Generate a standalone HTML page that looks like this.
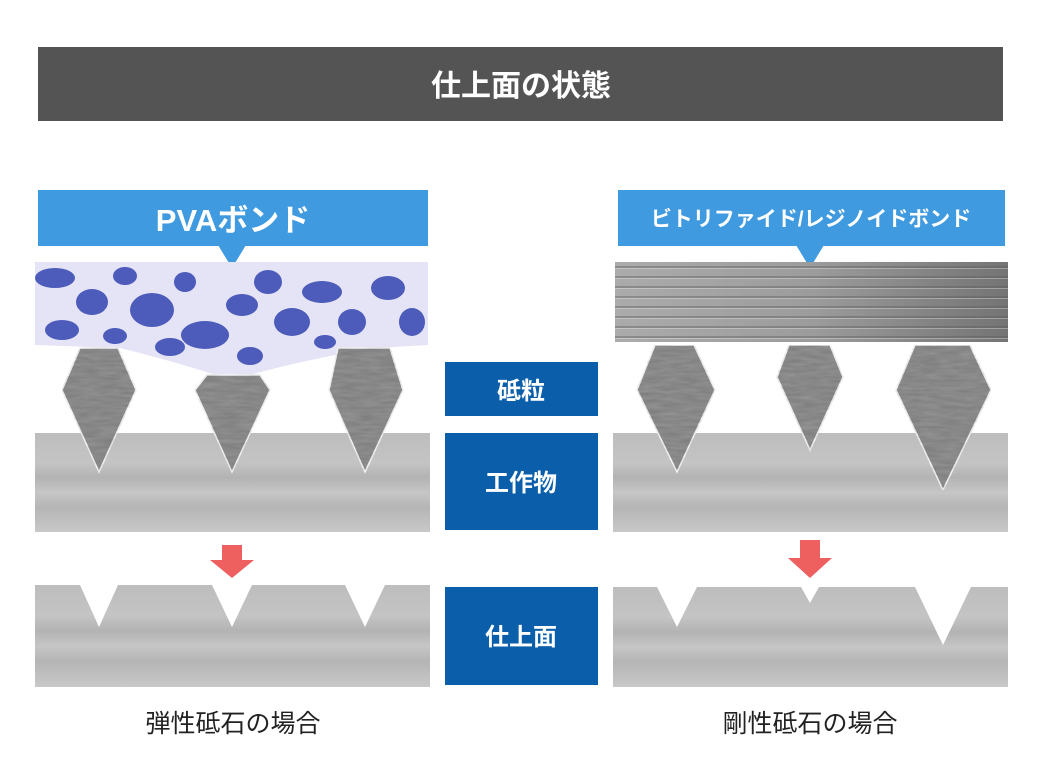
<!DOCTYPE html>
<html><head><meta charset="utf-8"><style>
html,body{margin:0;padding:0;background:#fff;}
svg{display:block}
text{font-family:"Liberation Sans","Noto Sans CJK JP",sans-serif;}
</style></head><body>
<svg width="1043" height="779" viewBox="0 0 1043 779" xmlns="http://www.w3.org/2000/svg">
<defs>
<linearGradient id="work" x1="0" y1="0" x2="0" y2="1">
<stop offset="0" stop-color="#bdbdbd"/><stop offset="0.3" stop-color="#c4c4c4"/><stop offset="0.45" stop-color="#b3b3b3"/><stop offset="0.6" stop-color="#c6c6c6"/><stop offset="0.75" stop-color="#b5b5b5"/><stop offset="1" stop-color="#c8c8c8"/>
</linearGradient>
<linearGradient id="stripeH" x1="0" y1="0" x2="1" y2="0">
<stop offset="0" stop-color="#ababab"/><stop offset="0.5" stop-color="#9c9c9c"/><stop offset="1" stop-color="#747474"/>
</linearGradient>
<pattern id="stripes" width="10" height="10" patternUnits="userSpaceOnUse">
<rect y="6" width="10" height="2" fill="#5a5a5a" opacity="0.4"/><rect y="8" width="10" height="1" fill="#fff" opacity="0.3"/>
</pattern>
<filter id="grain" x="0" y="0" width="100%" height="100%">
<feTurbulence type="fractalNoise" baseFrequency="0.05 0.3" numOctaves="3" seed="3"/>
<feColorMatrix type="matrix" values="0 0 0 0 0.6  0 0 0 0 0.6  0 0 0 0 0.6  0 0 0 -0.9 0.9"/>
<feComposite in2="SourceGraphic" operator="in"/>
<feBlend in2="SourceGraphic" mode="multiply"/>
</filter>
<clipPath id="foamclip"><path d="M35 262 H428 V345 L375 348 Q300 360 232 380 Q170 360 120 348 L35 345 Z"/></clipPath>
</defs>

<rect x="38" y="47" width="965" height="74" fill="#545454"/>
<text x="521" y="96" font-size="30" font-weight="bold" fill="#fff" text-anchor="middle">仕上面の状態</text>

<rect x="38" y="190" width="390" height="56" fill="#3f9ae0"/>
<polygon points="218,245 246,245 232,268" fill="#3f9ae0"/>
<text x="233" y="231" font-size="31" font-weight="bold" fill="#fff" text-anchor="middle">PVAボンド</text>
<rect x="618" y="190" width="387" height="56" fill="#3f9ae0"/>
<polygon points="796,245 824,245 810,268" fill="#3f9ae0"/>
<text x="811" y="226" font-size="21" font-weight="bold" fill="#fff" text-anchor="middle">ビトリファイド/レジノイドボンド</text>

<g clip-path="url(#foamclip)">
<rect x="35" y="262" width="393" height="120" fill="#e4e4f6"/>
<g fill="#3344b0" opacity="0.85">
<ellipse cx="55" cy="278" rx="20" ry="10"/><ellipse cx="92" cy="302" rx="16" ry="13"/><ellipse cx="125" cy="276" rx="12" ry="9"/>
<ellipse cx="152" cy="310" rx="22" ry="17"/><ellipse cx="185" cy="282" rx="11" ry="10"/><ellipse cx="205" cy="335" rx="24" ry="14"/>
<ellipse cx="242" cy="305" rx="16" ry="11"/><ellipse cx="268" cy="282" rx="14" ry="12"/><ellipse cx="292" cy="322" rx="18" ry="14"/>
<ellipse cx="250" cy="356" rx="13" ry="9"/><ellipse cx="322" cy="292" rx="20" ry="11"/><ellipse cx="352" cy="322" rx="14" ry="13"/>
<ellipse cx="388" cy="288" rx="17" ry="12"/><ellipse cx="412" cy="322" rx="13" ry="14"/><ellipse cx="62" cy="330" rx="17" ry="10"/>
<ellipse cx="115" cy="336" rx="12" ry="8"/><ellipse cx="325" cy="342" rx="11" ry="7"/><ellipse cx="170" cy="347" rx="15" ry="9"/>
</g>
</g>

<rect x="615" y="262" width="393" height="80" fill="url(#stripeH)"/>
<rect x="615" y="262" width="393" height="80" fill="url(#stripes)"/>

<rect x="35" y="433" width="395" height="99" fill="url(#work)"/>
<rect x="613" y="433" width="395" height="99" fill="url(#work)"/>

<g fill="#959595" stroke="#fff" stroke-width="1.5" filter="url(#grain)">
<polygon points="80,348 118,348 136,390 99,472 62,390"/>
<polygon points="207,375 260,375 270,390 232,472 195,390"/>
<polygon points="338,348 390,348 403,390 365,472 329,390"/>
<polygon points="655,345 694,345 715,390 677,472 637,390"/>
<polygon points="789,345 830,345 843,377 810,450 777,377"/>
<polygon points="915,345 970,345 991,390 943,490 896,390"/>
</g>

<polygon points="222,545 242,545 242,560 254,560 232,578 210,560 222,560" fill="#ee5f5f"/>
<polygon points="800,540 820,540 820,558 832,558 810,578 788,558 800,558" fill="#ee5f5f"/>

<path d="M35 585 H80 L99 627 L118 585 H212 L232 627 L252 585 H345 L365 627 L385 585 H430 V687 H35 Z" fill="url(#work)"/>
<path d="M613 587 H657 L677 627 L697 587 H801 L810 603 L819 587 H915 L943 645 L971 587 H1008 V687 H613 Z" fill="url(#work)"/>

<rect x="445" y="362" width="153" height="54" fill="#0b5eaa"/>
<text x="521" y="399" font-size="24" font-weight="bold" fill="#fff" text-anchor="middle">砥粒</text>
<rect x="445" y="433" width="153" height="97" fill="#0b5eaa"/>
<text x="521" y="491" font-size="24" font-weight="bold" fill="#fff" text-anchor="middle">工作物</text>
<rect x="445" y="587" width="153" height="98" fill="#0b5eaa"/>
<text x="521" y="645" font-size="24" font-weight="bold" fill="#fff" text-anchor="middle">仕上面</text>

<text x="233" y="732" font-size="25" fill="#222" text-anchor="middle">弾性砥石の場合</text>
<text x="810" y="732" font-size="25" fill="#222" text-anchor="middle">剛性砥石の場合</text>
</svg>
</body></html>
